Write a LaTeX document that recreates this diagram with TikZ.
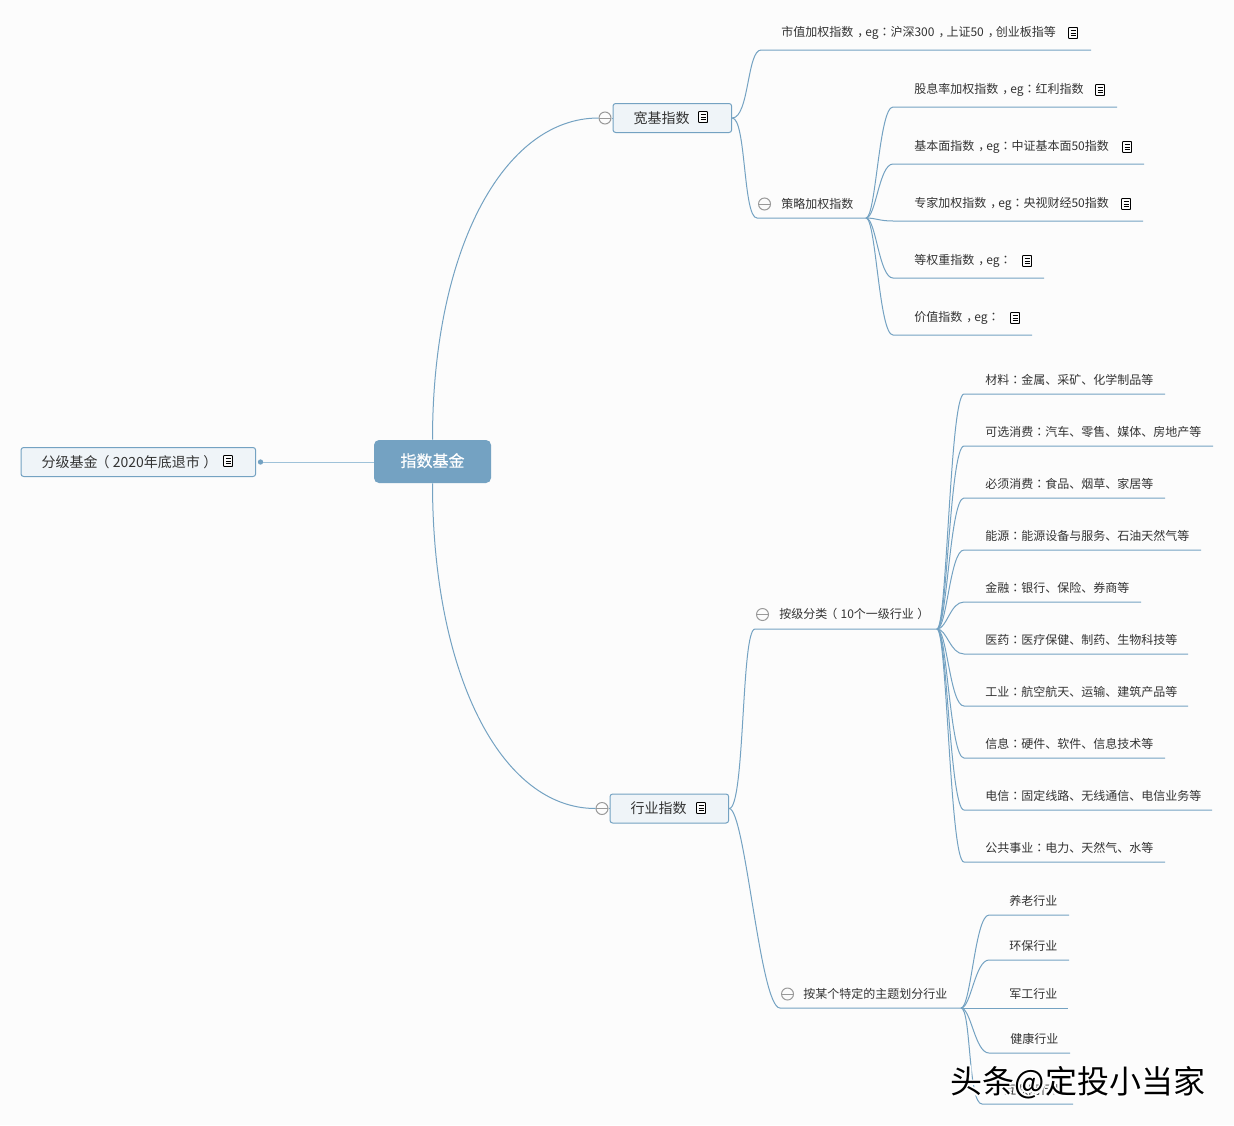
\documentclass[tikz,border=0pt]{standalone}
\usepackage{fontspec}
\setmainfont{Noto Sans CJK SC}
\newfontfamily\punctfont{Noto Sans CJK TC}
\newfontfamily\corefont[FakeBold=0.6]{Noto Sans CJK SC}
\newcommand{\cln}{{\punctfont ：}}
\newcommand{\cma}{\kern3pt，\kern-3pt}
\newcommand{\lpar}{\kern-1.5pt（\kern2.5pt}
\newcommand{\rpar}{\kern2.5pt）\kern-1.5pt}
\usepackage{tikz}
\definecolor{mapblue}{HTML}{74A2C2}
\definecolor{maplight}{HTML}{9FC2D9}
\definecolor{boxfill}{HTML}{EFF4F8}
\definecolor{pagebg}{HTML}{FCFCFC}
\definecolor{inkgray}{HTML}{333333}
\definecolor{markgray}{HTML}{999999}

\begin{document}
\begin{tikzpicture}[x=0.75pt, y=-0.75pt,
        root/.style={rounded corners=3.75pt, rectangle, fill=mapblue, text=white, minimum width=87.75pt, minimum height=32.25pt, inner sep=0pt, font=\fontsize{12}{14}\corefont},
        topicbox/.style={rounded corners=2pt, rectangle, draw=mapblue, fill=boxfill, line width=0.75pt, text=inkgray, minimum height=21.75pt, inner ysep=0pt, inner xsep=15.4pt, align=left, font=\fontsize{10.5}{12}\selectfont},
        label/.style={anchor=west, inner sep=0pt, text=inkgray, font=\fontsize{9}{11}\selectfont},
        branch/.style={draw=mapblue, line width=0.75pt},
        collapse/.style={circle, draw=markgray, fill=pagebg, line width=0.75pt, minimum size=9pt, inner sep=0pt, path picture={\draw[markgray, line width=0.75pt] (path picture bounding box.west) -- (path picture bounding box.east);}},
        noteicon/.pic={\draw[black, line width=0.7pt, fill=pagebg, rounded corners=0.5pt] (-4.5,-5.5) rectangle (4.5,5.5);
            \foreach \k in {-2.5,0,2.5} {\draw[black, line width=0.6pt] (-2.5,\k) -- (2.5,\k);}}]

        \path[use as bounding box, fill=pagebg] (0,0) rectangle (1234,1125);

        \node[root] (core) at (432.5,461.5) {\raisebox{2.2pt}{指数基金}};
        \node[topicbox, text width=145.2pt, anchor=west] (graded) at (20.5,462) {\raisebox{1pt}{分级基金\lpar 2020年底退市\rpar}};
        \node[topicbox, text width=58.2pt, anchor=west] (broad) at (612.5,118) {\raisebox{1pt}{宽基指数}};
        \node[topicbox, text width=58.2pt, anchor=west] (sector) at (609.5,808.5) {\raisebox{1pt}{行业指数}};
        \node[collapse] (foldbroad) at (605,118) {};
        \node[collapse] (foldsector) at (602,808.5) {};
        \node[circle, fill=mapblue, minimum size=4pt, inner sep=0pt] (dotgraded) at (260.5,462) {};

        \path[draw, branch] (core.north) .. controls +(0,-190) and +(-95,0) .. (foldbroad.west);
        \path[draw, branch] (core.south) .. controls +(0,190) and +(-95,0) .. (foldsector.west);
        \path[draw, branch] (foldbroad.east) -- (broad.west);
        \path[draw, branch] (foldsector.east) -- (sector.west);
        \path[draw, draw=maplight, line width=0.75pt] (dotgraded) -- (core.west |- dotgraded);

        \pic at (228,461) {noteicon};
        \pic at (703,117) {noteicon};
        \pic at (701,808) {noteicon};

        \coordinate (capstart) at (761,50);
        \coordinate (capend) at (1091,50);
        \node[label] (cap) at (781,33) {市值加权指数\cma eg\cln 沪深300\cma 上证50\cma 创业板指等};
        \pic at (1073,33) {noteicon};
        \path[draw, branch] (broad.east) .. controls +(17,0) and +(-14,0) .. (capstart) -- (capend);

        \node[label] (strategy) at (781,204) {策略加权指数};
        \node[collapse] (foldstrategy) at (764.5,204) {};
        \coordinate (strategystart) at (757,218);
        \coordinate (strategyhub) at (866,218);
        \path[draw, branch] (broad.east) .. controls +(14,0) and +(-14,0) .. (strategystart) -- (strategyhub);

        \foreach \id/\liney/\lineend/\iconx/\txt in {
                a/107/1117/1100/{股息率加权指数\cma eg\cln 红利指数},
                b/164/1144/1127/{基本面指数\cma eg\cln 中证基本面50指数},
                c/221/1143/1126/{专家加权指数\cma eg\cln 央视财经50指数},
                d/278/1044/1027/{等权重指数\cma eg\cln},
                e/335/1032/1015/{价值指数\cma eg\cln}} {
            \node[label] (strategy\id) at (914,\liney-17) {\txt};
            \coordinate (strategy\id start) at (893,\liney);
            \coordinate (strategy\id end) at (\lineend,\liney);
            \pic at (\iconx,\liney-17) {noteicon};
            \path[draw, branch] (strategyhub) .. controls +(10,0) and +(-14,0) .. (strategy\id start) -- (strategy\id end);
        }

        \node[label] (tier) at (779,614) {按级分类\lpar 10个一级行业\rpar};
        \node[collapse] (foldtier) at (762.5,614.5) {};
        \coordinate (tierstart) at (755,629);
        \coordinate (tierhub) at (937,629);
        \path[draw, branch] (sector.east) .. controls +(16,0) and +(-14,0) .. (tierstart) -- (tierhub);

        \foreach \id/\liney/\lineend/\txt in {
                a/394/1165/{材料\cln 金属、采矿、化学制品等},
                b/446/1213/{可选消费\cln 汽车、零售、媒体、房地产等},
                c/498/1165/{必须消费\cln 食品、烟草、家居等},
                d/550/1201/{能源\cln 能源设备与服务、石油天然气等},
                e/602/1141/{金融\cln 银行、保险、券商等},
                f/654/1188/{医药\cln 医疗保健、制药、生物科技等},
                g/706/1188/{工业\cln 航空航天、运输、建筑产品等},
                h/758/1165/{信息\cln 硬件、软件、信息技术等},
                i/810/1212/{电信\cln 固定线路、无线通信、电信业务等},
                j/862/1165/{公共事业\cln 电力、天然气、水等}} {
            \node[label] (tier\id) at (985,\liney-14) {\txt};
            \coordinate (tier\id start) at (964,\liney);
            \coordinate (tier\id end) at (\lineend,\liney);
            \path[draw, branch] (tierhub) .. controls +(10,0) and +(-14,0) .. (tier\id start) -- (tier\id end);
        }

        \node[label] (theme) at (803,994) {按某个特定的主题划分行业};
        \node[collapse] (foldtheme) at (787.5,994) {};
        \coordinate (themestart) at (780,1008);
        \coordinate (themehub) at (961,1008);
        \path[draw, branch] (sector.east) .. controls +(16,0) and +(-20,0) .. (themestart) -- (themehub);

        \foreach \id/\liney/\textx/\texty/\linestart/\lineend/\txt in {
                a/915/1009/901/989/1069/{养老行业},
                b/960/1009/946/989/1069/{环保行业},
                c/1008/1009/994/989/1068/{军工行业},
                d/1053/1010/1039/989/1070/{健康行业},
                e/1104/1004/1090/982/1073/{互联网行业}} {
            \node[label] (theme\id) at (\textx,\texty) {\txt};
            \coordinate (theme\id start) at (\linestart,\liney);
            \coordinate (theme\id end) at (\lineend,\liney);
            \path[draw, branch] (themehub) .. controls +(10,0) and +(-14,0) .. (theme\id start) -- (theme\id end);
        }

        \foreach \id/\dx/\dy in {a/-1.5/-1.5, b/1.5/-1.5, c/-1.5/1.5, d/1.5/1.5}
            \node[inner sep=0pt, text=white, font=\fontsize{24}{28}\selectfont] (stampglow\id) at (1078+\dx,1083+\dy) {头条@定投小当家};
        \node[inner sep=0pt, text=black, font=\fontsize{24}{28}\selectfont] (stamp) at (1078,1083) {头条@定投小当家};
\end{tikzpicture}
\end{document}
